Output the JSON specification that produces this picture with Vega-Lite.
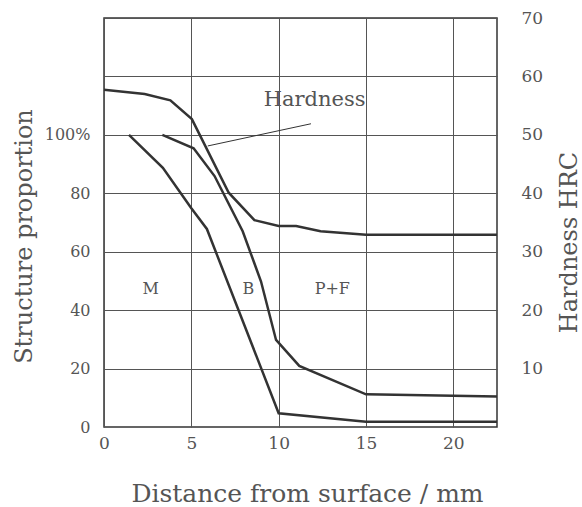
{
  "$schema": "https://vega.github.io/schema/vega-lite/v6.json",
  "width": 393,
  "height": 409,
  "autosize": {"type": "none"},
  "padding": {"left": 104, "top": 18, "right": 85, "bottom": 80},
  "background": "white",
  "config": {
    "view": {"stroke": "#333", "strokeWidth": 1.5},
    "font": "DejaVu Serif",
    "axis": {
      "domain": false,
      "ticks": false,
      "labelFont": "DejaVu Serif",
      "titleFont": "DejaVu Serif",
      "labelColor": "#555",
      "titleColor": "#555",
      "titleFontWeight": "normal",
      "gridColor": "#555",
      "gridOpacity": 1,
      "gridWidth": 1
    }
  },
  "datasets": {
    "structure": [
      {"series": "M", "d": 1.43, "pct": 100},
      {"series": "M", "d": 3.37, "pct": 88.7},
      {"series": "M", "d": 4.99, "pct": 75},
      {"series": "M", "d": 5.89, "pct": 67.8},
      {"series": "M", "d": 10, "pct": 4.7},
      {"series": "M", "d": 15, "pct": 1.8},
      {"series": "M", "d": 22.5, "pct": 1.8},
      {"series": "B", "d": 3.34, "pct": 100},
      {"series": "B", "d": 5.13, "pct": 95.4},
      {"series": "B", "d": 6.33, "pct": 85.9},
      {"series": "B", "d": 7.94, "pct": 67},
      {"series": "B", "d": 8.99, "pct": 49.8},
      {"series": "B", "d": 9.85, "pct": 29.8},
      {"series": "B", "d": 11.18, "pct": 20.9},
      {"series": "B", "d": 15, "pct": 11.2},
      {"series": "B", "d": 22.5, "pct": 10.4}
    ],
    "hardness": [
      {"d": 0, "hrc": 57.7},
      {"d": 2.33, "hrc": 57.0},
      {"d": 3.8, "hrc": 55.9},
      {"d": 5.03, "hrc": 52.7},
      {"d": 7.14, "hrc": 40.1},
      {"d": 8.61, "hrc": 35.4},
      {"d": 10, "hrc": 34.4},
      {"d": 11, "hrc": 34.4},
      {"d": 12.4, "hrc": 33.5},
      {"d": 15, "hrc": 32.9},
      {"d": 22.5, "hrc": 32.9}
    ],
    "labels": [
      {"text": "M", "d": 2.67, "pct": 47.3, "kind": "region"},
      {"text": "B", "d": 8.27, "pct": 47.3, "kind": "region"},
      {"text": "P+F", "d": 13.07, "pct": 47.3, "kind": "region"},
      {"text": "Hardness", "d": 12.06, "pct": 111.8, "kind": "curve"}
    ],
    "leader": [
      {"d": 11.85, "pct": 103.8, "d2": 5.94, "pct2": 96.2}
    ]
  },
  "layer": [
    {
      "layer": [
        {
          "data": {"name": "structure"},
          "mark": {"type": "line", "stroke": "#333", "strokeWidth": 2.5, "strokeJoin": "miter"},
          "encoding": {
            "x": {
              "field": "d", "type": "quantitative",
              "scale": {"domain": [0, 22.5], "nice": false},
              "axis": {
                "values": [0, 5, 10, 15, 20],
                "grid": true,
                "labelFlush": false,
                "labelFontSize": 17,
                "labelPadding": 8,
                "title": "Distance from surface / mm",
                "titleFontSize": 25,
                "titleX": 203,
                "titleY": 66,
                "titleAlign": "center",
                "titleBaseline": "middle"
              }
            },
            "y": {
              "field": "pct", "type": "quantitative",
              "scale": {"domain": [0, 140], "nice": false},
              "axis": {
                "values": [0, 20, 40, 60, 80, 100],
                "grid": false,
                "labelExpr": "datum.value == 100 ? '100%' : datum.label",
                "labelFontSize": 16,
                "labelPadding": 14,
                "labelAlign": "right",
                "title": "Structure  proportion",
                "titleFontSize": 24,
                "titleAngle": 270,
                "titleX": -80,
                "titleY": 218,
                "titleAlign": "center",
                "titleBaseline": "middle"
              }
            },
            "detail": {"field": "series"}
          }
        },
        {
          "data": {"name": "leader"},
          "mark": {"type": "rule", "stroke": "#333", "strokeWidth": 1},
          "encoding": {
            "x": {"field": "d", "type": "quantitative"},
            "y": {"field": "pct", "type": "quantitative"},
            "x2": {"field": "d2"},
            "y2": {"field": "pct2"}
          }
        },
        {
          "data": {"name": "labels"},
          "mark": {"type": "text", "font": "DejaVu Serif", "color": "#555", "align": "center", "baseline": "middle"},
          "encoding": {
            "x": {"field": "d", "type": "quantitative"},
            "y": {"field": "pct", "type": "quantitative"},
            "text": {"field": "text"},
            "size": {
              "field": "kind", "type": "nominal",
              "scale": {"domain": ["region", "curve"], "range": [16, 21]},
              "legend": null
            }
          }
        }
      ]
    },
    {
      "data": {"name": "hardness"},
      "mark": {"type": "line", "stroke": "#333", "strokeWidth": 2.5, "strokeJoin": "miter"},
      "encoding": {
        "x": {"field": "d", "type": "quantitative"},
        "y": {
          "field": "hrc", "type": "quantitative",
          "scale": {"domain": [0, 70], "nice": false},
          "axis": {
            "orient": "right",
            "values": [10, 20, 30, 40, 50, 60, 70],
            "grid": true,
            "labelFontSize": 17,
            "labelPadding": 24,
            "labelAlign": "left",
            "title": "Hardness  HRC",
            "titleFontSize": 24,
            "titleAngle": 270,
            "titleX": 72,
            "titleY": 224,
            "titleAlign": "center",
            "titleBaseline": "middle"
          }
        }
      }
    }
  ],
  "resolve": {"scale": {"y": "independent"}, "axis": {"y": "independent"}}
}
